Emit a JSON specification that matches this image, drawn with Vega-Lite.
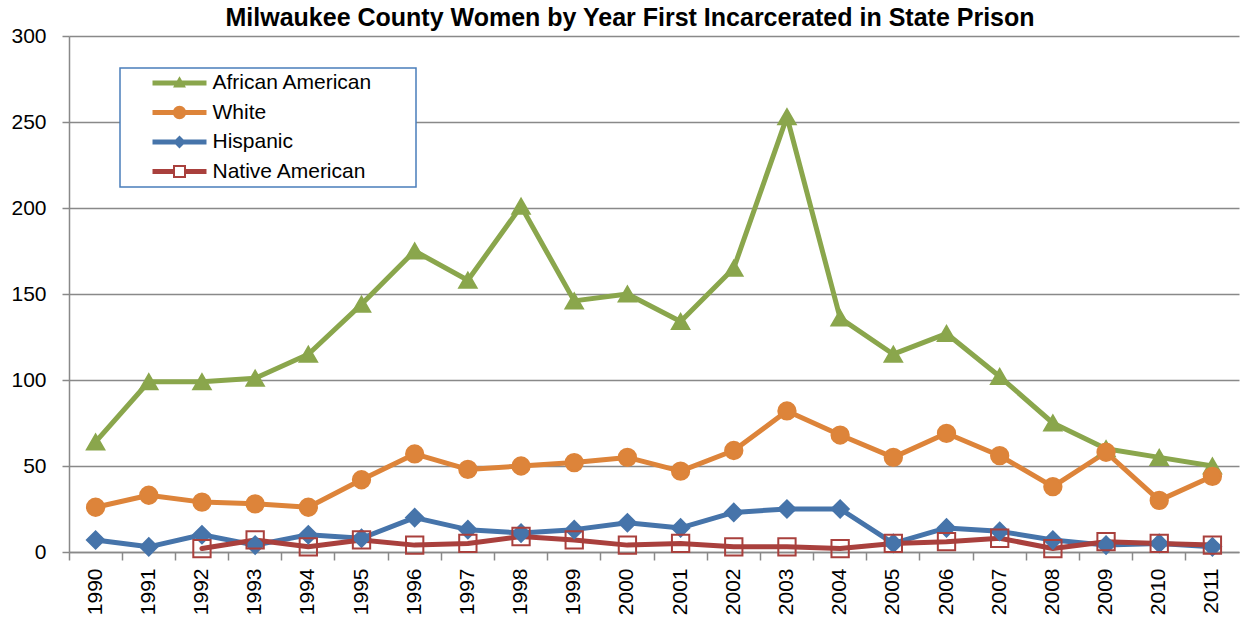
{
  "$schema": "https://vega.github.io/schema/vega-lite/v6.json",
  "width": 1170,
  "height": 516,
  "autosize": {"type": "none"},
  "padding": {"left": 69, "top": 36, "right": 4, "bottom": 68},
  "background": "white",
  "config": {"view": {"stroke": null}},
  "title": {
    "text": "Milwaukee County Women by Year First Incarcerated in State Prison",
    "font": "Liberation Sans",
    "fontSize": 25,
    "fontWeight": "bold",
    "color": "black",
    "anchor": "middle",
    "frame": "group",
    "offset": -6,
    "dx": -24
  },
  "data": {
    "values": [
      {"year": "1990", "series": "African American", "value": 64},
      {"year": "1991", "series": "African American", "value": 99},
      {"year": "1992", "series": "African American", "value": 99},
      {"year": "1993", "series": "African American", "value": 101},
      {"year": "1994", "series": "African American", "value": 115},
      {"year": "1995", "series": "African American", "value": 144},
      {"year": "1996", "series": "African American", "value": 175},
      {"year": "1997", "series": "African American", "value": 158},
      {"year": "1998", "series": "African American", "value": 201},
      {"year": "1999", "series": "African American", "value": 146},
      {"year": "2000", "series": "African American", "value": 150},
      {"year": "2001", "series": "African American", "value": 134},
      {"year": "2002", "series": "African American", "value": 165},
      {"year": "2003", "series": "African American", "value": 253},
      {"year": "2004", "series": "African American", "value": 136},
      {"year": "2005", "series": "African American", "value": 115},
      {"year": "2006", "series": "African American", "value": 127},
      {"year": "2007", "series": "African American", "value": 102},
      {"year": "2008", "series": "African American", "value": 75},
      {"year": "2009", "series": "African American", "value": 60},
      {"year": "2010", "series": "African American", "value": 55},
      {"year": "2011", "series": "African American", "value": 50},
      {"year": "1990", "series": "White", "value": 26},
      {"year": "1991", "series": "White", "value": 33},
      {"year": "1992", "series": "White", "value": 29},
      {"year": "1993", "series": "White", "value": 28},
      {"year": "1994", "series": "White", "value": 26},
      {"year": "1995", "series": "White", "value": 42},
      {"year": "1996", "series": "White", "value": 57},
      {"year": "1997", "series": "White", "value": 48},
      {"year": "1998", "series": "White", "value": 50},
      {"year": "1999", "series": "White", "value": 52},
      {"year": "2000", "series": "White", "value": 55},
      {"year": "2001", "series": "White", "value": 47},
      {"year": "2002", "series": "White", "value": 59},
      {"year": "2003", "series": "White", "value": 82},
      {"year": "2004", "series": "White", "value": 68},
      {"year": "2005", "series": "White", "value": 55},
      {"year": "2006", "series": "White", "value": 69},
      {"year": "2007", "series": "White", "value": 56},
      {"year": "2008", "series": "White", "value": 38},
      {"year": "2009", "series": "White", "value": 58},
      {"year": "2010", "series": "White", "value": 30},
      {"year": "2011", "series": "White", "value": 44},
      {"year": "1990", "series": "Hispanic", "value": 7},
      {"year": "1991", "series": "Hispanic", "value": 3},
      {"year": "1992", "series": "Hispanic", "value": 10},
      {"year": "1993", "series": "Hispanic", "value": 4},
      {"year": "1994", "series": "Hispanic", "value": 10},
      {"year": "1995", "series": "Hispanic", "value": 8},
      {"year": "1996", "series": "Hispanic", "value": 20},
      {"year": "1997", "series": "Hispanic", "value": 13},
      {"year": "1998", "series": "Hispanic", "value": 11},
      {"year": "1999", "series": "Hispanic", "value": 13},
      {"year": "2000", "series": "Hispanic", "value": 17},
      {"year": "2001", "series": "Hispanic", "value": 14},
      {"year": "2002", "series": "Hispanic", "value": 23},
      {"year": "2003", "series": "Hispanic", "value": 25},
      {"year": "2004", "series": "Hispanic", "value": 25},
      {"year": "2005", "series": "Hispanic", "value": 5},
      {"year": "2006", "series": "Hispanic", "value": 14},
      {"year": "2007", "series": "Hispanic", "value": 12},
      {"year": "2008", "series": "Hispanic", "value": 7},
      {"year": "2009", "series": "Hispanic", "value": 4},
      {"year": "2010", "series": "Hispanic", "value": 5},
      {"year": "2011", "series": "Hispanic", "value": 3},
      {"year": "1992", "series": "Native American", "value": 2},
      {"year": "1993", "series": "Native American", "value": 7},
      {"year": "1994", "series": "Native American", "value": 3},
      {"year": "1995", "series": "Native American", "value": 7},
      {"year": "1996", "series": "Native American", "value": 4},
      {"year": "1997", "series": "Native American", "value": 5},
      {"year": "1998", "series": "Native American", "value": 9},
      {"year": "1999", "series": "Native American", "value": 7},
      {"year": "2000", "series": "Native American", "value": 4},
      {"year": "2001", "series": "Native American", "value": 5},
      {"year": "2002", "series": "Native American", "value": 3},
      {"year": "2003", "series": "Native American", "value": 3},
      {"year": "2004", "series": "Native American", "value": 2},
      {"year": "2005", "series": "Native American", "value": 5},
      {"year": "2006", "series": "Native American", "value": 6},
      {"year": "2007", "series": "Native American", "value": 8},
      {"year": "2008", "series": "Native American", "value": 2},
      {"year": "2009", "series": "Native American", "value": 6},
      {"year": "2010", "series": "Native American", "value": 5},
      {"year": "2011", "series": "Native American", "value": 4}
    ]
  },
  "resolve": {"axis": {"x": "independent"}},
  "layer": [
    {
      "mark": {"type": "line", "strokeWidth": 5, "strokeJoin": "round", "strokeCap": "round"},
      "encoding": {
        "x": {
          "field": "year", "type": "ordinal",
          "scale": {"type": "band", "paddingInner": 0, "paddingOuter": 0},
          "axis": {
            "orient": "bottom", "title": null, "labels": false, "domain": false, "grid": false,
            "ticks": true, "tickSize": 8, "tickWidth": 1.5, "tickColor": "#898989", "bandPosition": 0
          }
        },
        "y": {
          "field": "value", "type": "quantitative",
          "scale": {"domain": [0, 300], "nice": false},
          "axis": {
            "title": null, "values": [0, 50, 100, 150, 200, 250, 300],
            "grid": true, "gridColor": "#898989", "gridWidth": 1.5,
            "domain": true, "domainColor": "#898989", "domainWidth": 1.5,
            "ticks": true, "tickSize": 7, "tickColor": "#898989", "tickWidth": 1.5,
            "labelFont": "Liberation Sans", "labelFontSize": 21, "labelColor": "black", "labelPadding": 16
          }
        },
        "color": {
          "field": "series", "type": "nominal",
          "scale": {
            "domain": ["African American", "White", "Hispanic", "Native American"],
            "range": ["#8aa64c", "#dd843a", "#4674aa", "#a9403d"]
          },
          "legend": {
            "orient": "none", "legendX": 51, "legendY": 32,
            "title": " ", "titleOrient": "right", "titlePadding": 39, "titleFontSize": 21, "titleFont": "Liberation Sans",
            "symbolSize": 2916, "clipHeight": 21, "rowPadding": 7.5, "padding": 4.5,
            "strokeColor": "#4a7ebb", "fillColor": "white", "cornerRadius": 0,
            "labelFont": "Liberation Sans", "labelFontSize": 21, "labelColor": "black",
            "labelOffset": 6, "symbolOffset": 28, "labelLimit": 500,
            "encode": {
              "legend": {"update": {"strokeWidth": {"value": 1.5}}},
              "symbols": {
                "update": {
                  "shape": {"signal": "datum.value === 'African American' ? 'M-1,-0.0926L1,-0.0926L1,0.0926L-1,0.0926Z M0,-0.25L0.24,0.17L-0.24,0.17Z' : datum.value === 'White' ? 'M-1,-0.0926L1,-0.0926L1,0.0926L-1,0.0926Z M0.25,0L0.231,0.0957L0.1768,0.1768L0.0957,0.231L0,0.25L-0.0957,0.231L-0.1768,0.1768L-0.231,0.0957L-0.25,0L-0.231,-0.0957L-0.1768,-0.1768L-0.0957,-0.231L0,-0.25L0.0957,-0.231L0.1768,-0.1768L0.231,-0.0957Z' : datum.value === 'Hispanic' ? 'M-1,-0.0926L1,-0.0926L1,0.0926L-1,0.0926Z M0,-0.24L0.24,0L0,0.24L-0.24,0Z' : 'M-1,-0.0926L-0.24,-0.0926L-0.24,0.0926L-1,0.0926Z M0.24,-0.0926L1,-0.0926L1,0.0926L0.24,0.0926Z M-0.24,-0.24L0.24,-0.24L0.24,0.24L-0.24,0.24Z M-0.167,-0.167L-0.167,0.167L0.167,0.167L0.167,-0.167Z'"},
                  "fill": {"signal": "datum.value === 'African American' ? '#8aa64c' : datum.value === 'White' ? '#dd843a' : datum.value === 'Hispanic' ? '#4674aa' : '#a9403d'"},
                  "stroke": {"value": "transparent"},
                  "strokeWidth": {"value": 0},
                  "opacity": {"value": 1},
                  "fillOpacity": {"value": 1}
                }
              }
            }
          }
        }
      }
    },
    {
      "mark": {"type": "point", "filled": true, "strokeWidth": 2, "size": 300, "opacity": 1},
      "encoding": {
        "x": {
          "field": "year", "type": "ordinal",
          "axis": {
            "orient": "bottom", "title": null, "ticks": false, "grid": false,
            "domain": true, "domainColor": "#898989", "domainWidth": 1.5,
            "labelAngle": 270, "labelFont": "Liberation Sans", "labelFontSize": 21, "labelColor": "black",
            "labelPadding": 16
          }
        },
        "y": {"field": "value", "type": "quantitative"},
        "fill": {
          "field": "series", "type": "nominal",
          "scale": {
            "domain": ["African American", "White", "Hispanic", "Native American"],
            "range": ["#8aa64c", "#dd843a", "#4674aa", "transparent"]
          },
          "legend": {"orient": "right", "title": null, "symbolOpacity": 0, "labelOpacity": 0, "symbolSize": 0, "labelExpr": "''"}
        },
        "stroke": {
          "field": "series", "type": "nominal",
          "scale": {
            "domain": ["African American", "White", "Hispanic", "Native American"],
            "range": ["#8aa64c", "#dd843a", "#4674aa", "#a9403d"]
          },
          "legend": {"orient": "right", "title": null, "symbolOpacity": 0, "labelOpacity": 0, "symbolSize": 0, "labelExpr": "''"}
        },
        "shape": {
          "field": "series", "type": "nominal",
          "scale": {
            "domain": ["African American", "White", "Hispanic", "Native American"],
            "range": ["triangle-up", "circle", "diamond", "square"]
          },
          "legend": {"orient": "right", "title": null, "symbolOpacity": 0, "labelOpacity": 0, "symbolSize": 0, "labelExpr": "''"}
        }
      }
    }
  ]
}
